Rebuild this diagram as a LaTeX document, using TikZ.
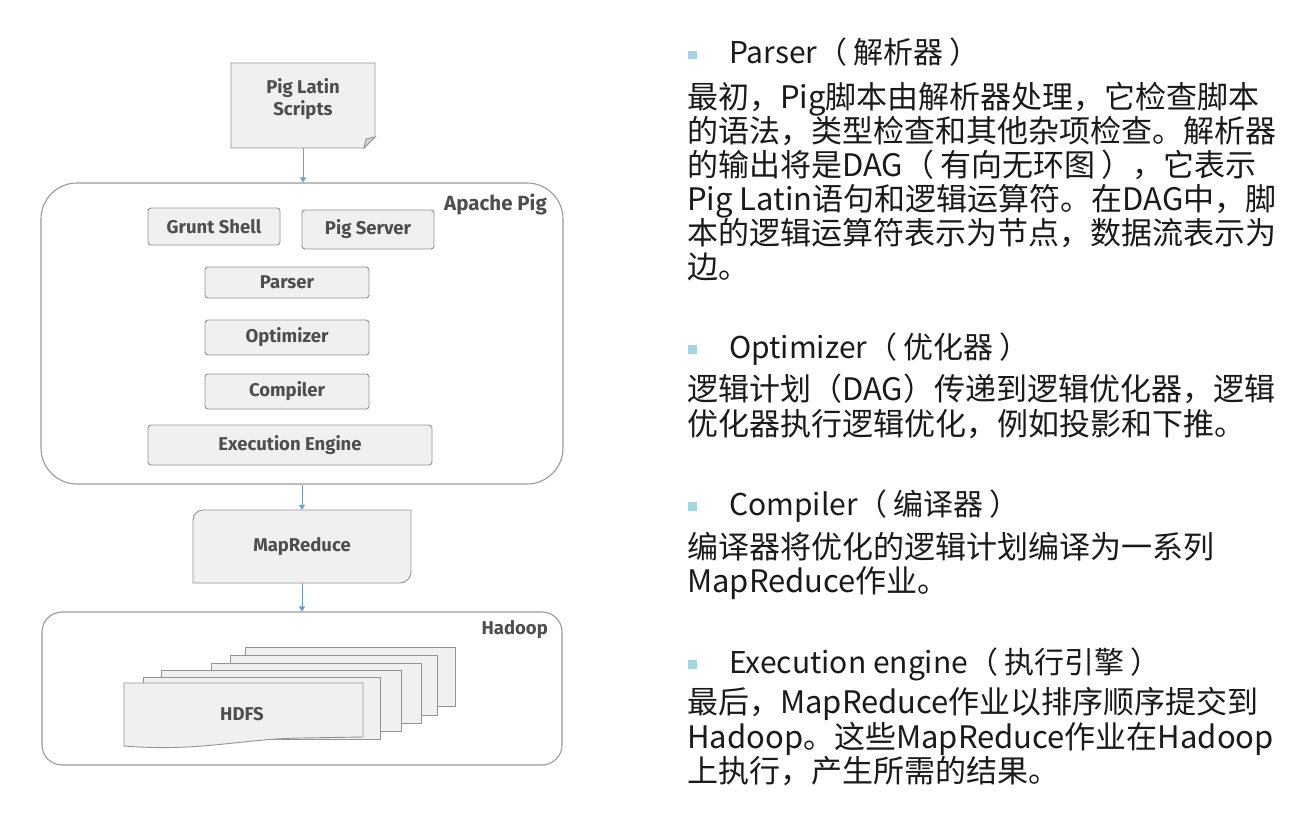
\documentclass[tikz,border=0pt]{standalone}
\usepackage{fontspec}
\setmainfont{Fira Sans}
\newfontfamily\cjk{Noto Sans CJK SC}
\usetikzlibrary{arrows.meta}
\definecolor{boxline}{HTML}{939393}
\definecolor{boxfill}{HTML}{F0F0F0}
\definecolor{contline}{HTML}{9A9A9A}
\definecolor{labelgray}{HTML}{4E4E4E}
\definecolor{arrowblue}{HTML}{6A9FCF}
\definecolor{textdark}{HTML}{1A1A1A}
\definecolor{bulletblue}{HTML}{A6D5E2}
\newcommand{\lp}{（\hspace{0.2em}}
\newcommand{\rp}{\hspace{0.2em}）}
\tikzset{
  box/.style={draw=boxline, fill=boxfill, rounded corners=3pt, line width=0.9pt,
    font=\fontsize{18.5}{21}\selectfont\bfseries, text=labelgray, inner sep=0pt},
  cont/.style={draw=contline, line width=1.1pt, fill=white, inner sep=0pt},
  lbl/.style={font=\fontsize{18.5}{22}\selectfont\bfseries, text=labelgray, inner sep=0pt, align=center},
  page/.style={draw=boxline, fill=boxfill, line width=0.9pt},
  arr/.style={draw=arrowblue, line width=0.8pt, -{Triangle[width=6pt,length=5pt]}},
  headtxt/.style={anchor=base west, inner sep=0pt, font=\cjk\fontsize{30}{34}\selectfont, text=textdark},
  bodytxt/.style={anchor=base west, inner sep=0pt, font=\cjk\fontsize{31}{34}\selectfont, text=textdark},
  bullet/.style={fill=bulletblue, draw=none, minimum size=8.5pt, inner sep=0pt}
}
\begin{document}
\begin{tikzpicture}[x=1pt,y=-1pt]
\useasboundingbox[fill=white] (0,0) rectangle (1314,817);

% ---------- left diagram ----------
% Pig Latin Scripts (document shape)
\draw[page] (231,63) -- (375,63) -- (375,137) -- (364,148) -- (231,148) -- cycle;
\draw[page, fill=boxline!40] (375,137) -- (366,139) -- (364,148) -- cycle;
\node[minimum width=144pt, minimum height=85pt, inner sep=0pt] (scripts) at (303,105.5) {};
\node[lbl] (scriptslbl) at (303,99) {Pig Latin\\Scripts};

% Apache Pig container
\node[cont, rounded corners=36pt, minimum width=522pt, minimum height=301pt] (apache) at (302,333.5) {};
\node[lbl, anchor=east, font=\fontsize{20.5}{22}\selectfont\bfseries] (apachelbl) at (547,204) {Apache Pig};
\node[box, minimum width=132pt, minimum height=37pt] (grunt) at (214,226.5) {Grunt Shell};
\node[box, minimum width=132pt, minimum height=39pt] (server) at (368,229.5) {Pig Server};
\node[box, minimum width=164pt, minimum height=31pt] (parser) at (287,282.5) {Parser};
\node[box, minimum width=164pt, minimum height=35pt] (optimizer) at (287,337.5) {Optimizer};
\node[box, minimum width=164pt, minimum height=35pt] (compiler) at (287,391.5) {Compiler};
\node[box, minimum width=284pt, minimum height=40pt] (engine) at (290,445) {Execution Engine};

% MapReduce
\draw[page] (193,583) -- (193,520) to[out=90,in=180] (203,510) -- (411,510) -- (411,572) to[out=-90,in=0] (400,583) -- cycle;
\node[lbl, minimum width=218pt, minimum height=73pt] (mapr) at (302,546.5) {MapReduce};

% Hadoop container
\node[cont, rounded corners=20pt, minimum width=520pt, minimum height=153pt] (hadoop) at (302,688.5) {};
\node[lbl, anchor=east] (hadooplbl) at (548,630) {Hadoop};

% HDFS stacked pages
\draw[page] (245,647) rectangle (455,706);
\draw[page] (230,655) rectangle (437,715);
\draw[page] (211,663) rectangle (421,723);
\draw[page] (161,670) rectangle (401,731);
\draw[page] (143,677) rectangle (380,739);
\draw[page] (124,683) -- (363,683) -- (363,737) -- (300,738) .. controls (240,739) and (200,752) .. (124,746) -- cycle;
\node[lbl] (hdfs) at (242,714) {HDFS};

% connectors
\draw[arr] (scripts.south) -- (scripts.south |- apache.north);
\draw[arr] (apache.south) -- (apache.south |- mapr.north);
\draw[arr] (mapr.south) -- (mapr.south |- hadoop.north);

% ---------- right text ----------
\node[bullet] (b1) at (692.5,55) {};
\node[headtxt] (h1) at (729,63.5) {Parser\lp 解析器\rp};
\node[bodytxt] (p1a) at (687,108.5) {最初，Pig脚本由解析器处理，它检查脚本};
\node[bodytxt] (p1b) at (687,142.5) {的语法，类型检查和其他杂项检查。解析器};
\node[bodytxt] (p1c) at (687,176.5) {的输出将是DAG\lp 有向无环图\rp，它表示};
\node[bodytxt] (p1d) at (687,210.5) {Pig Latin语句和逻辑运算符。在DAG中，脚};
\node[bodytxt] (p1e) at (687,244.5) {本的逻辑运算符表示为节点，数据流表示为};
\node[bodytxt] (p1f) at (687,278.5) {边。};

\node[bullet] (b2) at (692.5,349.5) {};
\node[headtxt] (h2) at (729,358) {Optimizer\lp 优化器\rp};
\node[bodytxt] (p2a) at (687,400.5) {逻辑计划（DAG）传递到逻辑优化器，逻辑};
\node[bodytxt] (p2b) at (687,435) {优化器执行逻辑优化，例如投影和下推。};

\node[bullet] (b3) at (692.5,506.5) {};
\node[headtxt] (h3) at (729,515) {Compiler\lp 编译器\rp};
\node[bodytxt] (p3a) at (687,558.5) {编译器将优化的逻辑计划编译为一系列};
\node[bodytxt] (p3b) at (687,592.5) {MapReduce作业。};

\node[bullet] (b4) at (692.5,664.5) {};
\node[headtxt] (h4) at (729,673) {Execution engine\lp 执行引擎\rp};
\node[bodytxt] (p4a) at (687,713.5) {最后，MapReduce作业以排序顺序提交到};
\node[bodytxt] (p4b) at (687,748) {Hadoop。这些MapReduce作业在Hadoop};
\node[bodytxt] (p4c) at (687,782.5) {上执行，产生所需的结果。};
\end{tikzpicture}
\end{document}
